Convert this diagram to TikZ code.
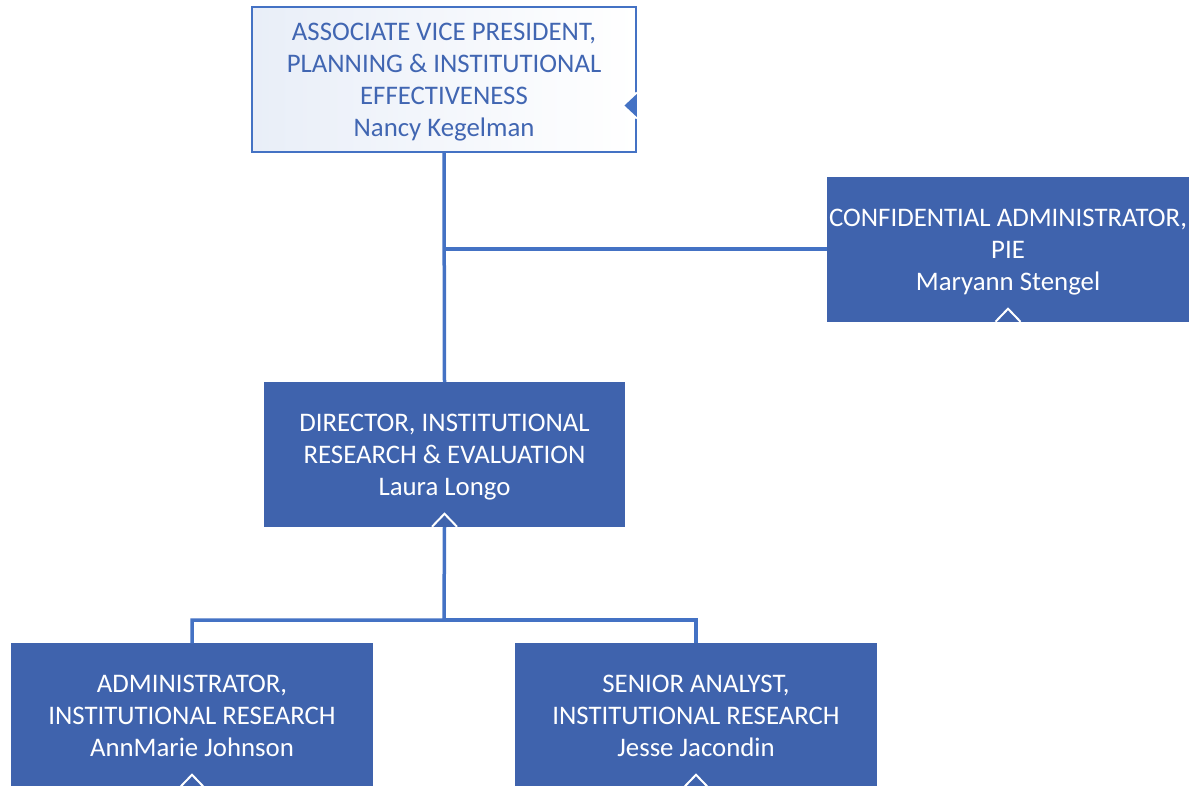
\documentclass[tikz,border=0pt]{standalone}
\usepackage{fontspec}
\setmainfont{Carlito}
\usepackage{tikz}
\usetikzlibrary{calc}
\definecolor{orgfill}{HTML}{3F63AD}
\definecolor{orgline}{HTML}{4472C4}
\definecolor{orgtext}{HTML}{4166B2}

\begin{document}
\begin{tikzpicture}[x=1pt, y=-1pt,
      box/.style={fill=orgfill, draw=orgfill, line width=1.5pt, text=white, align=center, inner sep=0pt,
                  font=\fontsize{26.8}{32}\selectfont, minimum width=360pt, minimum height=143pt,
                  text depth=0pt},
      topbox/.style={box, draw=orgline, left color=orgline!12, right color=white, text=orgtext,
                  minimum width=384pt, minimum height=145pt},
      link/.style={draw=orgline, line width=3.5pt},
      marker/.style={draw=white, line width=2pt, line join=miter}]
      \useasboundingbox (0,0) rectangle (1192,786);

      \node[topbox] (avp) at (444,79.5) {ASSOCIATE VICE PRESIDENT,\\PLANNING \& INSTITUTIONAL\\EFFECTIVENESS\\Nancy Kegelman};
      \node[box] (conf) at (1008,249.5) {CONFIDENTIAL ADMINISTRATOR,\\PIE\\Maryann Stengel};
      \node[box] (dir) at (444.5,454.5) {DIRECTOR, INSTITUTIONAL\\RESEARCH \& EVALUATION\\Laura Longo};
      \node[box] (adm) at (192,715.5) {ADMINISTRATOR,\\INSTITUTIONAL RESEARCH\\AnnMarie Johnson};
      \node[box] (sen) at (696,715.5) {SENIOR ANALYST,\\INSTITUTIONAL RESEARCH\\Jesse Jacondin};
      \coordinate (split) at (444,620);

      \draw[link] (avp.south) -- (dir.north);
      \draw[link] (avp.south |- 0,249) -- (conf.west |- 0,249);
      \draw[link] (dir.south) -- (split) -| (adm.north);
      \draw[link] (split) -| (sen.north);

      % expand markers
      \path[marker, fill=orgline] ([yshift=-13pt]avp.east) -- ++(-14,13) -- ++(14,13);
      \foreach \n in {conf, dir, adm, sen}
        \path[marker, fill=orgfill] ($(\n.south)+(-12.5,0)$) -- ++(12.5,-13) -- ++(12.5,13);
    \end{tikzpicture}
\end{document}
